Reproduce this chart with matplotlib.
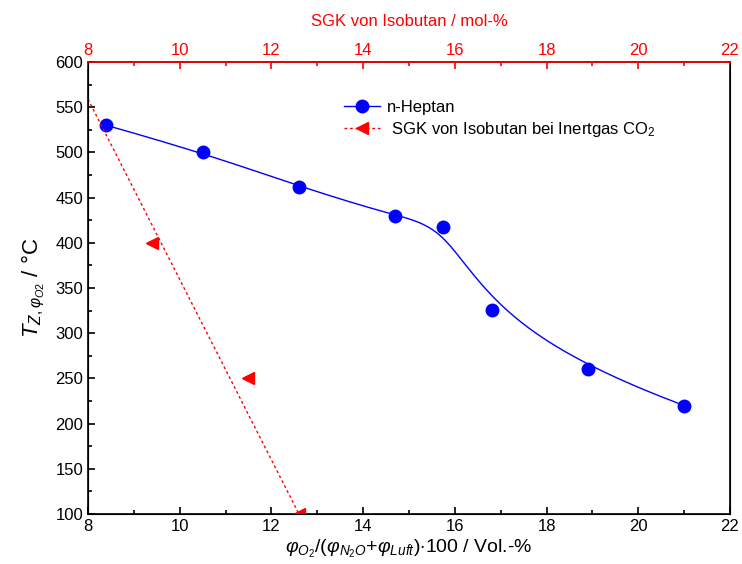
import numpy as np
import matplotlib
matplotlib.use('Agg')
import matplotlib.pyplot as plt

plt.rcParams['font.family'] = ['Liberation Sans', 'DejaVu Sans']
plt.rcParams['mathtext.fontset'] = 'custom'
plt.rcParams['mathtext.rm'] = 'Liberation Sans'
plt.rcParams['mathtext.it'] = 'Liberation Sans:italic'
plt.rcParams['mathtext.bf'] = 'Liberation Sans:bold'

# n-Heptan measurements
heptan_x = [8.4, 10.5, 12.6, 14.7, 15.75, 16.8, 18.9, 21.0]
heptan_t = [530, 500, 462, 430, 418, 326, 260, 220]

# SGK von Isobutan (top axis, mol-%)
sgk_x = [9.4, 11.5, 12.6]
sgk_t = [400, 250, 100]
sgk_line_x = [8.0, 12.6]
sgk_line_t = [559, 100]


# clamped cubic B-spline with the data points as control points
def bspline(cx, cy, num=400, k=3):
    cx = np.asarray(cx, float)
    cy = np.asarray(cy, float)
    m = len(cx)
    knots = np.concatenate([np.zeros(k), np.arange(m - k + 1), np.full(k, m - k)]).astype(float)
    t = np.linspace(0, m - k, num)
    N = np.zeros((num, len(knots) - 1))
    for i in range(len(knots) - 1):
        N[:, i] = (knots[i] <= t) & (t < knots[i + 1])
    last = np.where(knots[:-1] < knots[1:])[0][-1]
    N[t == t.max(), :] = 0
    N[t == t.max(), last] = 1
    for d in range(1, k + 1):
        Nn = np.zeros((num, len(knots) - 1 - d))
        for i in range(len(knots) - 1 - d):
            a = knots[i + d] - knots[i]
            b = knots[i + d + 1] - knots[i + 1]
            term = np.zeros(num)
            if a > 0:
                term += (t - knots[i]) / a * N[:, i]
            if b > 0:
                term += (knots[i + d + 1] - t) / b * N[:, i + 1]
            Nn[:, i] = term
        N = Nn
    return N @ cx, N @ cy


fig = plt.figure(figsize=(7.42, 5.64), dpi=100)
ax = fig.add_axes([0.1186, 0.0887, 0.8652, 0.8013])

bx, by = bspline(heptan_x, heptan_t)
ax.plot(bx, by, color='blue', lw=1.0)
ax.plot(heptan_x, heptan_t, 'o', color='blue', ms=9)
h1, = ax.plot([], [], '-o', color='blue', lw=1.0, ms=9, label='n-Heptan')

ax.set_xlim(8, 22)
ax.set_ylim(100, 600)
ax.set_xticks(np.arange(8, 23, 2))
ax.set_xticks(np.arange(8, 23, 1), minor=True)
ax.set_yticks(np.arange(100, 601, 50))
ax.set_yticks(np.arange(100, 601, 25), minor=True)
ax.tick_params(which='both', direction='in', top=False, right=False, labelsize=12, width=1.2)
ax.tick_params(which='major', length=5)
ax.tick_params(which='minor', length=3)
for s in ax.spines.values():
    s.set_linewidth(1.2)

ax.set_xlabel(r'$\varphi_{O_2}$/($\varphi_{N_2O}$+$\varphi_{Luft}$)$\cdot$100 / Vol.-%', fontsize=14, labelpad=3)
ax.set_ylabel(r'$T_{Z,\varphi_{O2}}$ / °C', fontsize=16, labelpad=6)

ax2 = ax.twiny()
ax2.set_xlim(8, 22)
ax2.set_xticks(np.arange(8, 23, 2))
ax2.set_xticks(np.arange(8, 23, 1), minor=True)
ax2.tick_params(which='both', direction='in', colors='red', labelsize=12, width=1.2, pad=3)
ax2.tick_params(which='major', length=5)
ax2.tick_params(which='minor', length=3)
ax2.spines['top'].set_color('red')
ax2.spines['top'].set_linewidth(1.2)
ax2.set_xlabel('SGK von Isobutan / mol-%', color='red', fontsize=12, labelpad=12)

ax2.plot(sgk_line_x, sgk_line_t, color='red', lw=1.0, linestyle=(0, (2, 2)))
ax2.plot(sgk_x, sgk_t, '<', color='red', ms=9)
h2, = ax2.plot([], [], marker='<', color='red', lw=1.0, ms=9, linestyle=(0, (2, 2)),
               label=' SGK von Isobutan bei Inertgas CO$_2$')

ax.legend(handles=[h1, h2], loc='upper left', bbox_to_anchor=(0.375, 0.95),
          frameon=False, fontsize=12, handlelength=2.2, handletextpad=0.4,
          labelspacing=0.3)

fig.savefig('out.png', dpi=100)
